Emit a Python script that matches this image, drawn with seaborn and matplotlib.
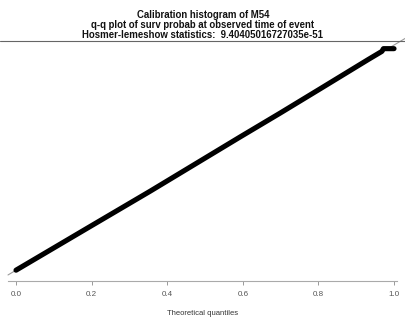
import matplotlib
matplotlib.use("Agg")
import matplotlib.pyplot as plt
import seaborn as sns
import pandas as pd
from matplotlib.lines import Line2D

# ---- data ----
theoretical = [0.0, 0.196, 0.355, 0.593, 0.699, 0.805, 0.932, 0.968, 0.972, 1.0]
observed    = [0.0, 0.194, 0.351, 0.592, 0.698, 0.806, 0.936, 0.972, 0.984, 0.984]
xticks = [0.0, 0.2, 0.4, 0.6, 0.8, 1.0]
xtick_labels = ["0.0", "0.2", "0.4", "0.6", "0.8", "1.0"]
title_lines = ["Calibration histogram of M54",
               "q-q plot of surv probab at observed time of event",
               "Hosmer-lemeshow statistics:  9.40405016727035e-51"]
xlabel = "Theoretical quantiles"

sns.set_style("white")
plt.rcParams['font.family'] = ['Liberation Sans', 'DejaVu Sans']

W, H = 406, 327
fig = plt.figure(figsize=(W / 100, H / 100), dpi=100)
ax = fig.add_axes([8 / W, (H - 281) / H, 389 / W, 240 / H])

df = pd.DataFrame({"theoretical": theoretical, "observed": observed})
sns.lineplot(data=df, x="theoretical", y="observed", ax=ax, color="black",
             linewidth=3.7, solid_capstyle="round", solid_joinstyle="round",
             sort=False, zorder=3)

# reference line y = x
ref = [-0.0212, 1.0328]
ax.plot(ref, ref, color="#9a9a9a", linewidth=0.8, clip_on=False, zorder=2)

ax.set_xlim(-0.0212, 1.0079)
ax.set_ylim(-0.048, 1.018)

for s in ["left", "right", "top"]:
    ax.spines[s].set_visible(False)
ax.spines["bottom"].set_color("#aaaaaa")
ax.spines["bottom"].set_linewidth(0.8)
ax.set_yticks([])
ax.set_xticks(xticks)
ax.set_xticklabels(xtick_labels)
ax.tick_params(axis="x", bottom=True, length=3, width=0.7, color="#999999",
               labelsize=5.8, labelcolor="#555555", pad=4.5)
ax.set_xlabel(xlabel, fontsize=5.5, color="#333333", labelpad=8)
ax.set_ylabel("")

# top rule
fig.add_artist(Line2D([0, 405 / W], [(H - 41) / H] * 2, color="#666666",
                      linewidth=0.8, transform=fig.transFigure))

for i, t in enumerate(title_lines):
    fig.text(0.5, (H - (15 + 10.2 * i)) / H, t, ha="center", va="center",
             fontsize=6.9, fontweight="bold", color="#111111")

fig.savefig("out.png", dpi=100)
